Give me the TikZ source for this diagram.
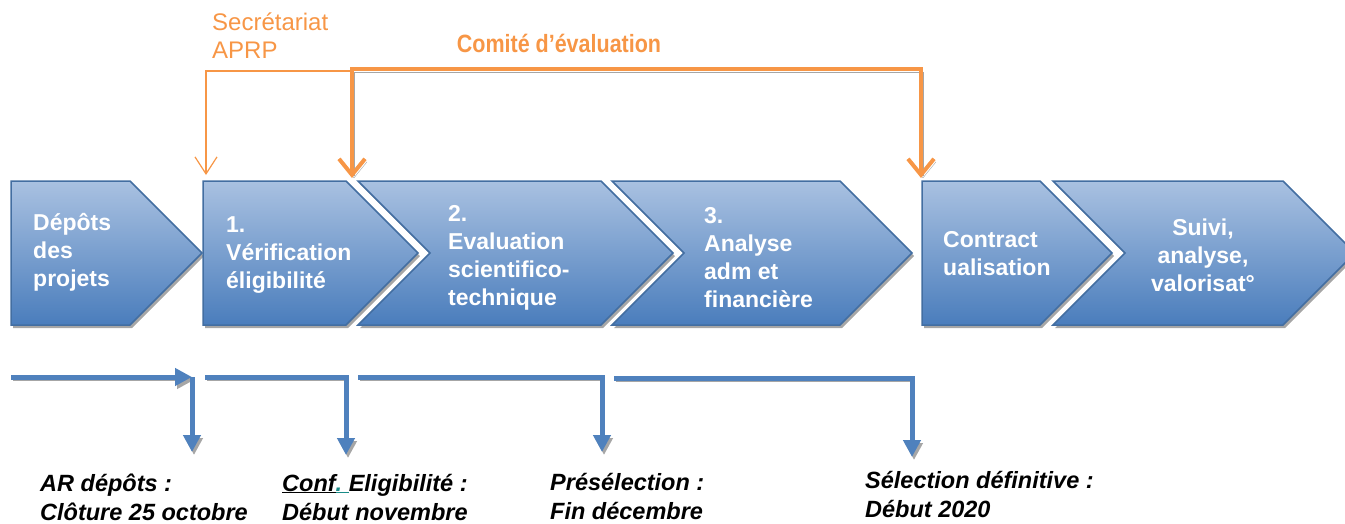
\documentclass[tikz,border=0pt]{standalone}
\usepackage{fontspec}
\setmainfont{Liberation Sans}
\usetikzlibrary{shapes.symbols,shadows,arrows.meta}

\definecolor{aprp}{HTML}{F79646}
\definecolor{etape}{HTML}{4F81BD}
\definecolor{etapehaut}{HTML}{A9C1E1}
\definecolor{etapebas}{HTML}{4A7DBC}
\definecolor{confpoint}{HTML}{1A8C88}

\begin{document}
\begin{tikzpicture}[x=1pt,y=-1pt,
  etapebox/.style={signal, signal to=east, signal pointer angle=90,
    minimum height=144pt, inner sep=0pt, draw=etape!85!black, line width=1.5pt,
    top color=etapehaut, bottom color=etapebas,
    drop shadow={shadow xshift=2pt, shadow yshift=-3pt, fill=black!35, opacity=1}},
  etapetext/.style={text=white, font=\fontsize{23}{28}\selectfont\bfseries,
    align=left, anchor=west, inner sep=0pt},
  datetext/.style={font=\fontsize{23.5}{29}\selectfont\bfseries\itshape,
    align=left, anchor=west, inner sep=0pt},
  ombre/.style={preaction={draw=black!35, transform canvas={shift={(2pt,-3pt)}}}},
  comite/.style={draw=aprp, line width=4pt, ombre,
    arrows={Straight Barb[length=16pt,width=26pt]-Straight Barb[length=16pt,width=26pt]}},
  secr/.style={draw=aprp, line width=1.2pt, arrows={-Straight Barb[length=17pt,width=22pt]}},
  ligne/.style={draw=etape, line width=5pt, ombre, arrows={-Triangle[length=17pt,width=17pt]}}
]
\useasboundingbox (0,0) rectangle (1345,523);
\clip (0,0) rectangle (1345,523);

% etapes
\node[etapebox, signal from=nowhere, minimum width=191pt] (depot) at (70.5,253) {};
\node[etapebox, signal from=nowhere, minimum width=215pt] (verif) at (274.5,253) {};
\node[etapebox, signal from=west, minimum width=315pt] (evalu) at (515.5,253) {};
\node[etapebox, signal from=west, minimum width=300pt] (analy) at (762,253) {};
\node[etapebox, signal from=nowhere, minimum width=190pt] (contr) at (981,253) {};
\node[etapebox, signal from=west, minimum width=302pt] (suivi) at (1204,253) {};

\node[etapetext] (tdepot) at (33,252) {Dépôts\\des\\projets};
\node[etapetext] (tverif) at (226,255) {1.\\Vérification\\éligibilité};
\node[etapetext] (tevalu) at (448,258) {2.\\Evaluation\\scientifico-\\technique};
\node[etapetext] (tanaly) at (704,258) {3.\\Analyse\\adm et\\financière};
\node[etapetext] (tcontr) at (943,254) {Contract\\ualisation};
\node[etapetext, anchor=center, align=center] (tsuivi) at (1203,255) {Suivi,\\analyse,\\valorisat°};

% secretariat et comite
\node[text=aprp, font=\fontsize{24}{28}\selectfont, align=left, anchor=west, inner sep=0pt]
  (secret) at (212,36) {Secrétariat\\APRP};
\node[text=aprp, font=\fontsize{25}{30}\selectfont\bfseries, inner sep=0pt]
  (comtxt) at (559,43) {\scalebox{0.86}[1]{Comité d’évaluation}};

\coordinate (secrdep) at (352,71);
\coordinate (secrfin) at (206,175);
\draw[secr] (secrdep) -| (secrfin);

\coordinate (comg) at (352,178);
\coordinate (comhg) at (352,69);
\coordinate (comhd) at (921,69);
\coordinate (comd) at (921,178);
\draw[comite] (comg) -- (comhg) -- (comhd) -- (comd);

% calendrier
\coordinate (c0) at (11,377);
\coordinate (c1) at (192,377);
\coordinate (f1) at (192,452);
\coordinate (c2a) at (205,377);
\coordinate (c2) at (346,377);
\coordinate (f2) at (346,455);
\coordinate (c3a) at (358,377);
\coordinate (c3) at (602,377);
\coordinate (f3) at (602,452);
\coordinate (c4a) at (614,378);
\coordinate (c4) at (912,378);
\coordinate (f4) at (912,457);

\draw[ligne] (c0) -- (c1);
\draw[ligne] (c1) -- (f1);
\draw[ligne] (c2a) -- (c2) -- (f2);
\draw[ligne] (c3a) -- (c3) -- (f3);
\draw[ligne] (c4a) -- (c4) -- (f4);

\node[datetext] (ar) at (40,497) {AR dépôts :\\Clôture 25 octobre};
\node[datetext] (conf) at (282,497) {\underline{Conf}\textcolor{confpoint}{\underline{.\ }}Eligibilité :\\Début novembre};
\node[datetext] (presel) at (550,496) {Présélection :\\Fin décembre};
\node[datetext] (selec) at (865,494) {Sélection définitive :\\Début 2020};

\end{tikzpicture}
\end{document}
